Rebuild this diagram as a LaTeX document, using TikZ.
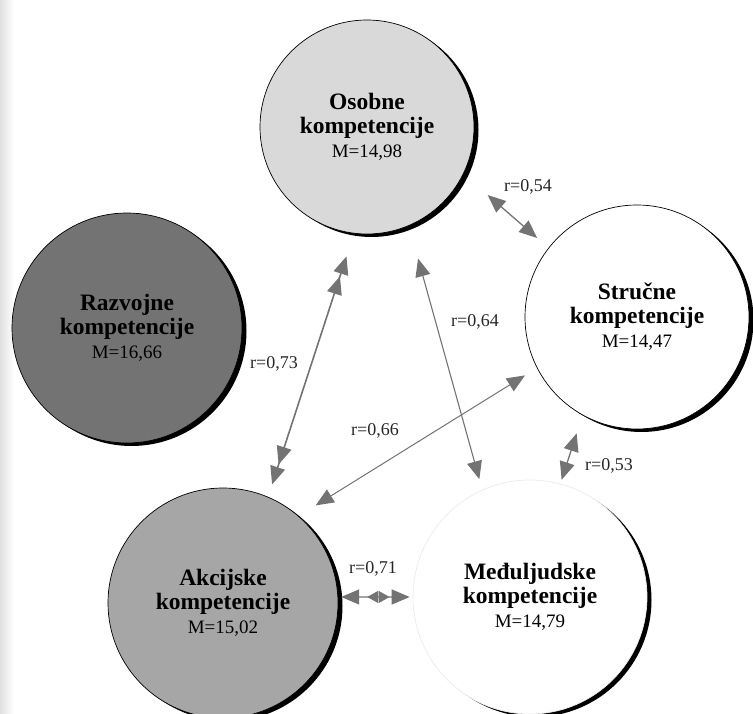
\documentclass[tikz,border=0pt]{standalone}
\usepackage{fontspec}
\setmainfont{Liberation Serif}
\usepackage{xcolor}
\usetikzlibrary{arrows.meta, shadows, decorations.markings}

\tikzset{
  komp/.style={circle, draw=black, line width=0.7pt, align=center, inner sep=0pt,
    font=\fontsize{23.5}{24}\selectfont\bfseries,
    drop shadow={shadow xshift=4.5pt, shadow yshift=-3pt, opacity=1, fill=black}},
  veza/.style={<->, color=black!55, line width=1.3pt},
  oznaka/.style={font=\fontsize{18}{18}\selectfont, text=black!85},
}
\newcommand{\mval}[1]{{\mdseries\fontsize{19}{24}\selectfont M=#1}}

\begin{document}
\begin{tikzpicture}[x=1pt, y=1pt, >={Triangle[length=18pt, width=15pt, sep=3pt]}]
    \useasboundingbox (0,0) rectangle (753,713);
    \shade[left color=black!12, right color=white] (0,0) rectangle (14,713);

    % Krugovi (kompetencije)
    \node[komp, fill=black!15, minimum size=214pt] (osobne) at (367,586)
        {Osobne\\kompetencije\\\mval{14,98}};
    \node[komp, fill=black!55, minimum size=230pt] (razvojne) at (127,385)
        {Razvojne\\kompetencije\\\mval{16,66}};
    \node[komp, fill=white, minimum size=224pt] (strucne) at (637,396)
        {Stručne\\kompetencije\\\mval{14,47}};
    \node[komp, fill=black!35, minimum size=230pt] (akcijske) at (223,110)
        {Akcijske\\kompetencije\\\mval{15,02}};
    \node[komp, fill=white, draw=black!8, minimum size=234pt] (medjuljudske) at (530,116)
        {Međuljudske\\kompetencije\\\mval{14,79}};

    % Korelacije
    \draw[veza, shorten <=29pt, shorten >=12pt] (osobne.-26) -- (strucne.142);
    \draw[veza, <<->>, line width=1.6pt, shorten <=21pt, shorten >=10pt] (osobne.263) -- (akcijske.67);
    \draw[veza, line width=1.1pt, shorten <=31pt, shorten >=8pt] (osobne.293) -- (medjuljudske.114);
    \draw[veza, line width=1pt, shorten <=11pt, shorten >=17pt] (strucne.207) -- (akcijske.49);
    \draw[veza, shorten <=16pt, shorten >=1pt] (strucne.241) -- (medjuljudske.75);
    \draw[veza, postaction={decorate, decoration={markings,
          mark=at position 0.39 with {\arrowreversed{Triangle[length=11pt, width=12pt]}},
          mark=at position 0.69 with {\arrow{Triangle[length=11pt, width=12pt]}}}}]
        (akcijske.3) -- (medjuljudske.180);

    % Oznake
    \node[oznaka] (r54) at (528,526) {r=0,54};
    \node[oznaka] (r73) at (274,349) {r=0,73};
    \node[oznaka] (r64) at (475,391) {r=0,64};
    \node[oznaka] (r66) at (375,282) {r=0,66};
    \node[oznaka] (r53) at (609,247) {r=0,53};
    \node[oznaka] (r71) at (373,144) {r=0,71};
\end{tikzpicture}
\end{document}
